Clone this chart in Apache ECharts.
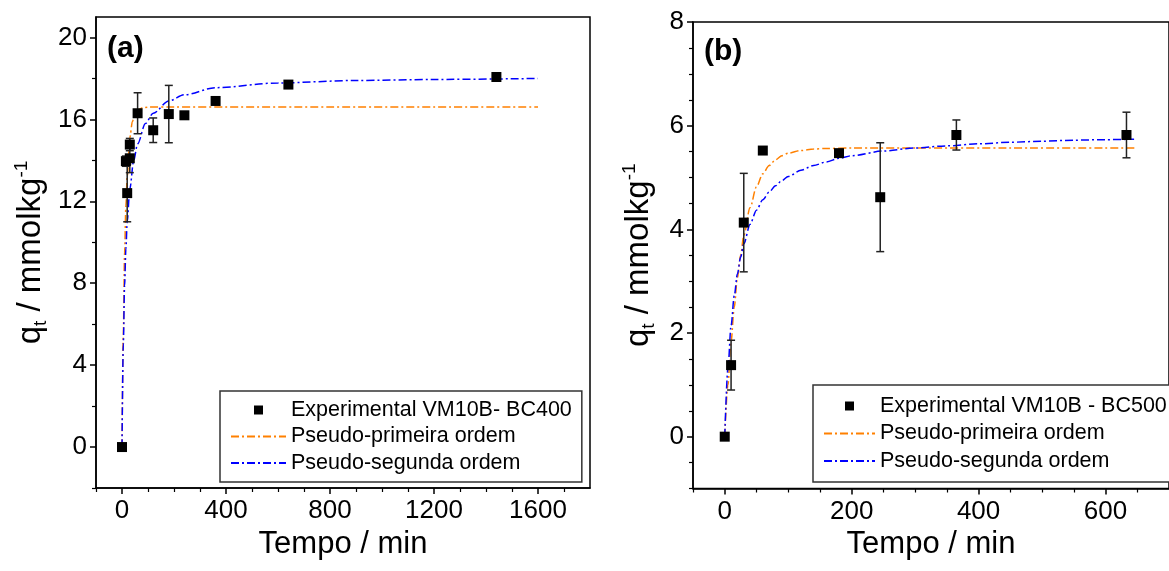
<!DOCTYPE html>
<html><head><meta charset="utf-8">
<script src="https://cdn.jsdelivr.net/npm/echarts@6/dist/echarts.min.js"></script>
<style>html,body{margin:0;padding:0;background:#fff}#c{width:1169px;height:571px}</style>
</head><body><div id="c"></div>
<script>
// ---------- Panel (a) data ----------
const expA_t   = [0, 15, 20, 30, 30, 60, 120, 180, 240, 360, 640, 1440];
const expA_q   = [0, 13.96, 12.4, 14.1, 14.77, 16.3, 15.47, 16.26, 16.2, 16.9, 17.7, 18.07];
const expA_err = [0, 0.25, 1.4, 0.7, 0.3, 1.0, 0.6, 1.4, 0, 0, 0, 0];
const pfoA_t = [0, 5, 10, 15, 20, 30, 40, 50, 60, 80, 100, 200, 400, 800, 1200, 1600];
const pfoA_q = [0, 5.5, 9.5, 11.8, 13.2, 15.1, 15.9, 16.3, 16.45, 16.57, 16.6, 16.6, 16.6, 16.6, 16.6, 16.6];
const psoA_t = [0, 5, 10, 15, 20, 30, 45, 60, 90, 120, 180, 240, 360, 600, 900, 1200, 1600];
const psoA_q = [0, 5.0, 7.9, 9.7, 11.0, 12.6, 14.0, 14.8, 15.8, 16.3, 16.9, 17.2, 17.55, 17.78, 17.9, 17.95, 18.0];
const xTicksA = [0, 400, 800, 1200, 1600];
const xMinorA = [-100, 100, 200, 300, 500, 600, 700, 900, 1000, 1100, 1300, 1400, 1500, 1700];
const yTicksA = [0, 4, 8, 12, 16, 20];
const yMinorA = [-2, 2, 6, 10, 14, 18];

// ---------- Panel (b) data ----------
const expB_t   = [0, 10, 30, 60, 180, 245, 365, 633];
const expB_q   = [0, 1.38, 4.13, 5.52, 5.47, 4.62, 5.82, 5.82];
const expB_err = [0, 0.48, 0.95, 0, 0.05, 1.05, 0.29, 0.44];
const pfoB_t = [0, 5, 10, 15, 20, 25, 30, 40, 50, 60, 70, 80, 90, 100, 120, 140, 160, 200, 300, 450, 650];
const pfoB_q = [0, 1.0, 1.84, 2.5, 3.07, 3.5, 3.88, 4.42, 4.82, 5.07, 5.23, 5.34, 5.42, 5.47, 5.52, 5.55, 5.56, 5.57, 5.57, 5.57, 5.57];
const psoB_t = [0, 5, 10, 15, 20, 25, 30, 40, 50, 60, 70, 80, 90, 100, 120, 140, 160, 180, 200, 250, 300, 350, 400, 450, 500, 550, 600, 645];
const psoB_q = [0, 1.31, 2.14, 2.72, 3.14, 3.46, 3.72, 4.1, 4.37, 4.57, 4.72, 4.84, 4.94, 5.02, 5.14, 5.23, 5.30, 5.37, 5.42, 5.51, 5.57, 5.61, 5.65, 5.68, 5.70, 5.72, 5.73, 5.74];
const xTicksB = [0, 200, 400, 600];
const xMinorB = [-50, 50, 100, 150, 250, 300, 350, 450, 500, 550, 650];
const yTicksB = [0, 2, 4, 6, 8];
const yMinorB = [-1, -0.5, 0.5, 1, 1.5, 2.5, 3, 3.5, 4.5, 5, 5.5, 6.5, 7, 7.5];

const nameExpA = 'Experimental VM10B- BC400';
const nameExpB = 'Experimental VM10B - BC500';
const namePFO = 'Pseudo-primeira ordem';
const namePSO = 'Pseudo-segunda ordem';

const FONT = '"Liberation Sans", Arial, Helvetica, sans-serif';
const zip = (a, b) => a.map((v, i) => [v, b[i]]);
const errData = (t, q, e) => t.map((v, i) => [v, q[i] - e[i], q[i] + e[i]]).filter((d, i) => e[i] > 0);

function errRender(params, api) {
  const x = api.value(0), lo = api.value(1), hi = api.value(2);
  const p1 = api.coord([x, hi]), p2 = api.coord([x, lo]);
  const w = 4, st = { stroke: '#222', lineWidth: 1.5 };
  return { type: 'group', children: [
    { type: 'line', shape: { x1: p1[0], y1: p1[1], x2: p2[0], y2: p2[1] }, style: st },
    { type: 'line', shape: { x1: p1[0] - w, y1: p1[1], x2: p1[0] + w, y2: p1[1] }, style: st },
    { type: 'line', shape: { x1: p2[0] - w, y1: p2[1], x2: p2[0] + w, y2: p2[1] }, style: st }
  ]};
}

const axisLine = { show: true, onZero: false, lineStyle: { color: '#000', width: 1.5 } };
const yName = '{q|q}{sub|t}{n| / mmolkg}{sup|-1}';
const yNameStyle = {
  fontFamily: FONT, color: '#000',
  rich: {
    q: { fontSize: 33, fontFamily: FONT, color: '#000', lineHeight: 38 },
    n: { fontSize: 33, fontFamily: FONT, color: '#000', lineHeight: 38 },
    sub: { fontSize: 19, fontFamily: FONT, color: '#000', verticalAlign: 'bottom', lineHeight: 19 },
    sup: { fontSize: 19, fontFamily: FONT, color: '#000', verticalAlign: 'top', lineHeight: 19 }
  }
};
const plain = v => String(v);

function xMain(grid, min, max, ticks) {
  return { type: 'value', gridIndex: grid, min, max, axisLine,
    splitLine: { show: false },
    axisTick: { show: true, customValues: ticks, length: 6, lineStyle: { color: '#000', width: 1.5 } },
    axisLabel: { customValues: ticks, formatter: plain, fontSize: 26, fontFamily: FONT, color: '#000', margin: 10 },
    name: 'Tempo / min', nameLocation: 'middle', nameGap: 40,
    nameTextStyle: { fontSize: 31, fontFamily: FONT, color: '#000' } };
}
function xMinor(grid, min, max, ticks) {
  return { type: 'value', gridIndex: grid, min, max, position: 'bottom',
    axisLine: { show: false, onZero: false }, splitLine: { show: false },
    axisTick: { show: true, customValues: ticks, length: 4, lineStyle: { color: '#000', width: 1.2 } },
    axisLabel: { show: false } };
}
function yMain(grid, min, max, ticks, gap) {
  return { type: 'value', gridIndex: grid, min, max, axisLine,
    splitLine: { show: false },
    axisTick: { show: true, customValues: ticks, length: 6, lineStyle: { color: '#000', width: 1.5 } },
    axisLabel: { customValues: ticks, formatter: plain, fontSize: 26, fontFamily: FONT, color: '#000', margin: 9 },
    name: yName, nameLocation: 'middle', nameGap: gap, nameRotate: 90,
    nameTextStyle: yNameStyle };
}
function yMinor(grid, min, max, ticks) {
  return { type: 'value', gridIndex: grid, min, max, position: 'left',
    axisLine: { show: false, onZero: false }, splitLine: { show: false },
    axisTick: { show: true, customValues: ticks, length: 4, lineStyle: { color: '#000', width: 1.2 } },
    axisLabel: { show: false } };
}

const dash = [8, 3, 2, 3];
function fitLine(name, color, xi, t, q) {
  return { type: 'line', name, xAxisIndex: xi, yAxisIndex: xi, data: zip(t, q),
    smooth: 0.3, smoothMonotone: 'x', symbol: 'none', showSymbol: false,
    itemStyle: { color }, lineStyle: { color, width: 1.5, type: dash }, z: 3, silent: true };
}

const squareIcon = 'path://M0,0L10,0L10,10L0,10Z';
const legendBase = {
  orient: 'vertical', itemHeight: 9, selectedMode: false, symbolKeepAspect: true,
  textStyle: { fontSize: 21.5, fontFamily: FONT, color: '#000', lineHeight: 21 },
  borderColor: '#333', borderWidth: 1.5, backgroundColor: '#fff'
};
const lineItem = n => ({ name: n, itemStyle: { opacity: 0 } });

const option = {
  animation: false,
  backgroundColor: '#fff',
  grid: [
    { left: 96, top: 17, width: 494, height: 471, show: true, borderColor: '#000', borderWidth: 1.5, backgroundColor: 'transparent' },
    { left: 693, top: 22, width: 487.5, height: 466.5, show: true, borderColor: '#000', borderWidth: 1.5, backgroundColor: 'transparent' }
  ],
  xAxis: [
    xMain(0, -100, 1800, xTicksA),
    xMain(1, -50, 700, xTicksB),
    xMinor(0, -100, 1800, xMinorA),
    xMinor(1, -50, 700, xMinorB)
  ],
  yAxis: [
    yMain(0, -2, 21, yTicksA, 46),
    yMain(1, -1, 8, yTicksB, 35),
    yMinor(0, -2, 21, yMinorA),
    yMinor(1, -1, 8, yMinorB)
  ],
  legend: [
    Object.assign({}, legendBase, { left: 220, top: 391, padding: [8, 10, 8, 10], itemGap: 4.5, itemWidth: 55,
      data: [{ name: nameExpA, icon: squareIcon }, lineItem(namePFO), lineItem(namePSO)] }),
    Object.assign({}, legendBase, { left: 813, top: 385, padding: [10, 10, 10, 10], itemGap: 5.5, itemWidth: 51,
      data: [{ name: nameExpB, icon: squareIcon }, lineItem(namePFO), lineItem(namePSO)] })
  ],
  graphic: [
    { type: 'text', left: 107, top: 34, style: { text: '(a)', font: 'bold 30px ' + FONT, fill: '#000' } },
    { type: 'text', left: 704, top: 37, style: { text: '(b)', font: 'bold 30px ' + FONT, fill: '#000' } }
  ],
  series: [
    fitLine(namePFO, '#FF8000', 0, pfoA_t, pfoA_q),
    fitLine(namePSO, '#0000FF', 0, psoA_t, psoA_q),
    { type: 'custom', name: 'errA', xAxisIndex: 0, yAxisIndex: 0, renderItem: errRender,
      data: errData(expA_t, expA_q, expA_err), encode: { x: 0, y: [1, 2] }, z: 4, silent: true },
    { type: 'scatter', name: nameExpA, xAxisIndex: 0, yAxisIndex: 0, data: zip(expA_t, expA_q),
      symbol: 'rect', symbolSize: 10, itemStyle: { color: '#000', opacity: 1 }, z: 5, silent: true },

    fitLine(namePFO, '#FF8000', 1, pfoB_t, pfoB_q),
    fitLine(namePSO, '#0000FF', 1, psoB_t, psoB_q),
    { type: 'custom', name: 'errB', xAxisIndex: 1, yAxisIndex: 1, renderItem: errRender,
      data: errData(expB_t, expB_q, expB_err), encode: { x: 0, y: [1, 2] }, z: 4, silent: true },
    { type: 'scatter', name: nameExpB, xAxisIndex: 1, yAxisIndex: 1, data: zip(expB_t, expB_q),
      symbol: 'rect', symbolSize: 10, itemStyle: { color: '#000', opacity: 1 }, z: 5, silent: true }
  ]
};

const chart = echarts.init(document.getElementById('c'), null, { renderer: 'canvas' });
chart.setOption(option);
</script>
</body></html>
